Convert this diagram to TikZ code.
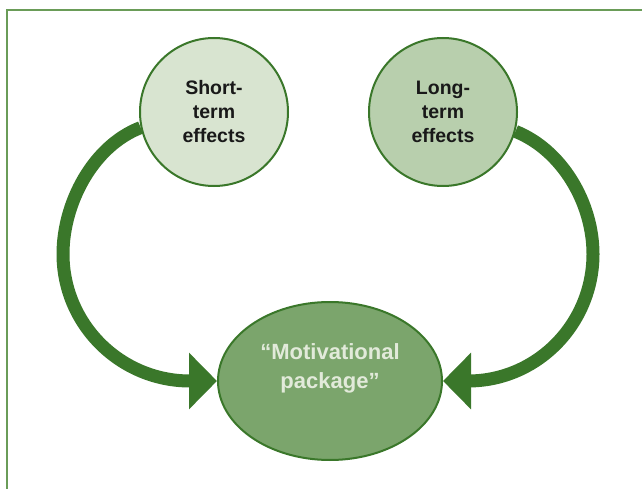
\documentclass[tikz,border=0pt]{standalone}
\usepackage{fontspec}
\setmainfont{Liberation Sans}
\usetikzlibrary{shapes.geometric,arrows.meta}

\definecolor{darkgreen}{HTML}{3A772A}
\definecolor{framegreen}{HTML}{6A9C58}
\definecolor{paleleaf}{HTML}{D8E4D0}
\definecolor{sageleaf}{HTML}{B8CFAD}
\definecolor{mossleaf}{HTML}{7BA56C}
\definecolor{mossText}{HTML}{E2EADA}

\tikzset{
  effect/.style={circle,draw=darkgreen,line width=2pt,minimum size=148pt,
    inner sep=0pt,align=center,text=black!90,
    font=\fontsize{19.5}{24}\selectfont\bfseries},
  package/.style={ellipse,draw=darkgreen,line width=2pt,fill=mossleaf,
    minimum width=224pt,minimum height=158pt,inner sep=0pt},
  feed/.style={darkgreen,line width=13pt,
    -{Triangle[length=28pt,width=55pt]}}
}

\begin{document}
\begin{tikzpicture}[x=1pt,y=-1pt]
	\useasboundingbox (0,0) rectangle (642,489);
	% open frame, left and top only
	\draw[framegreen,line width=2pt] (7,489) -- (7,10) -- (642,10);
	% the three bubbles
	\node[effect,fill=paleleaf] (short) at (214,112) {Short-\\term\\effects};
	\node[effect,fill=sageleaf] (long) at (443,112) {Long-\\term\\effects};
	\node[package] (pack) at (330,381) {};
	\node[align=center,text=mossText,font=\fontsize{22}{29}\selectfont\bfseries]
		(packtext) at (330,368) {“Motivational\\package”};
	% curved arrows into the package, each close to a circular arc
	\draw[feed] (short.192) .. controls (93,146) and (63,203) .. (63,254)
		.. controls (63,324) and (120,381) .. (190,381) -- (pack.west);
	\draw[feed] (long.345) .. controls (562,150) and (593,203) .. (593,254)
		.. controls (593,324) and (537,381) .. (468,381) -- (pack.east);
\end{tikzpicture}
\end{document}
